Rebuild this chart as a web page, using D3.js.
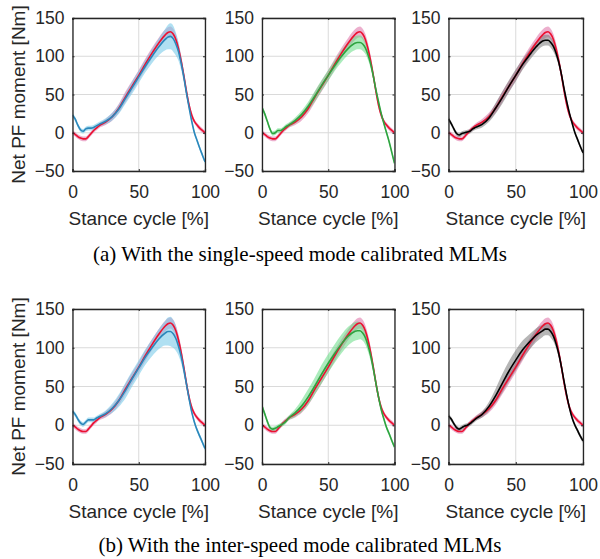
<!DOCTYPE html>
<html><head><meta charset="utf-8">
<script src="https://cdn.jsdelivr.net/npm/d3@7"></script>
<style>body{margin:0;background:#fff}svg{display:block}</style>
</head><body>
<svg id="c" width="600" height="559"></svg>
<script>
// ---- data ----
const stance = [0,2,4,6,8,10,12,14,16,18,20,25,30,35,40,45,50,55,60,65,70,72,74,76,78,80,82,84,86,88,90,92,94,96,98,100];
const xTicks = [0,50,100];
const yTicks = [-50,0,50,100,150];
const captions = ["(a) With the single-speed mode calibrated MLMs","(b) With the inter-speed mode calibrated MLMs"];

const measured   = [0,-2,-5,-7,-8,-8,-5,-1,3,6,9,14,21,32,47,61,75,90,104,117,128,131,132,129,122,110,94,75,54,36,23,15,10,6,3,0];
const measuredSD = [3,3,3,3,3,3,3,3,3,3,3,4,5,6,7,7,7,7,7,7,7,7,7,7,7,7,7,6,6,5,4,3,3,3,3,3];

const singleBlue   = [23,18,10,4,2,5,6,6,7,9,11,15,21,31,45,59,73,87,100,112,122,125,126,123,116,106,91,73,52,33,15,0,-10,-20,-29,-38];
const singleBlueSD = [3,3,3,3,3,3,3,3,3,3,3,4,5,6,7,8,8,8,9,11,14,16,17,17,15,12,9,7,5,4,3,3,3,3,3,3];
const singleGreen   = [33,25,15,5,-1,0,3,3,5,8,10,16,24,35,48,62,75,88,100,110,117,118,118,116,111,102,90,74,56,40,25,12,0,-12,-26,-40];
const singleGreenSD = [3,3,3,3,3,3,3,3,3,3,3,4,5,6,7,7,7,7,8,8,9,9,9,9,8,7,6,5,4,4,3,3,3,3,3,3];
const singleBlack   = [18,12,5,-1,-3,-1,0,1,2,5,7,11,19,32,46,61,75,89,101,112,120,121,121,118,113,104,92,76,57,40,25,12,0,-9,-18,-26];
const singleBlackSD = [3,3,3,3,3,3,3,3,3,3,3,4,5,7,8,8,8,7,7,7,7,7,7,7,7,6,5,5,4,4,3,3,3,3,3,3];

const interBlue   = [18,14,8,3,1,4,7,7,7,9,11,15,22,32,45,60,74,88,100,111,119,121,121,118,112,102,89,72,53,34,17,4,-6,-14,-22,-30];
const interBlueSD = [3,3,3,3,3,3,3,3,3,3,3,4,6,8,10,10,10,10,11,13,16,18,19,18,16,12,9,7,5,4,3,3,3,3,3,3];
const interGreen   = [25,15,5,-3,-5,-4,-2,0,2,5,9,16,25,37,51,66,80,93,105,115,121,122,122,119,113,103,90,73,54,36,20,8,-3,-11,-20,-28];
const interGreenSD = [3,3,3,3,3,3,3,3,3,3,3,5,8,10,11,12,12,12,12,12,12,12,11,10,9,8,7,6,5,4,3,3,3,3,3,3];
const interBlack   = [12,8,2,-3,-5,-3,-1,0,2,5,8,14,24,38,54,70,84,97,107,116,122,124,124,121,115,105,92,75,56,38,22,9,0,-7,-14,-20];
const interBlackSD = [3,3,3,3,3,3,3,3,3,3,3,4,6,9,12,13,13,12,10,9,8,8,8,8,7,6,5,5,4,4,3,3,3,3,3,3];

const styles = {
  blue:  {line:"#2b87bb", band:"#7ccbea", op:0.6},
  green: {line:"#2ea33f", band:"#66dd85", op:0.55},
  black: {line:"#000000", band:"#7a7a7a", op:0.55},
  red:   {line:"#ec1030", band:"#e07aab", op:0.6}
};

const panels = [
  {row:0,col:0,mean:singleBlue,sd:singleBlueSD,st:"blue"},
  {row:0,col:1,mean:singleGreen,sd:singleGreenSD,st:"green"},
  {row:0,col:2,mean:singleBlack,sd:singleBlackSD,st:"black"},
  {row:1,col:0,mean:interBlue,sd:interBlueSD,st:"blue"},
  {row:1,col:1,mean:interGreen,sd:interGreenSD,st:"green"},
  {row:1,col:2,mean:interBlack,sd:interBlackSD,st:"black"}
];

// ---- layout ----
const colX = [[72.5,205],[262,394.5],[448.5,583]];
const rowY = [[18,171],[309,464]];
const svg = d3.select("#c");
const frame = "#262626";

panels.forEach(p => {
  const [x0,x1] = colX[p.col], [y0,y1] = rowY[p.row];
  const x = d3.scaleLinear().domain([0,100]).range([x0,x1]);
  const y = d3.scaleLinear().domain([-50,150]).range([y1,y0]);
  const g = svg.append("g");
  const clipId = "clip"+p.row+p.col;
  g.append("clipPath").attr("id",clipId).append("rect")
    .attr("x",x0).attr("y",y0).attr("width",x1-x0).attr("height",y1-y0);

  // grid
  g.selectAll(".gx").data(xTicks).join("line")
    .attr("x1",d=>x(d)).attr("x2",d=>x(d)).attr("y1",y0).attr("y2",y1)
    .attr("stroke","#dadada").attr("stroke-width",1);
  g.selectAll(".gy").data(yTicks).join("line")
    .attr("y1",d=>y(d)).attr("y2",d=>y(d)).attr("x1",x0).attr("x2",x1)
    .attr("stroke","#dadada").attr("stroke-width",1);

  const area = (m,s) => d3.area().curve(d3.curveMonotoneX)
      .x((d,i)=>x(stance[i])).y0((d,i)=>y(m[i]-s[i])).y1((d,i)=>y(m[i]+s[i]))(stance);
  const line = m => d3.line().curve(d3.curveMonotoneX)
      .x((d,i)=>x(stance[i])).y((d,i)=>y(m[i]))(stance);

  const pg = g.append("g").attr("clip-path",`url(#${clipId})`);
  const cs = styles[p.st], rs = styles.red;
  pg.append("path").attr("d",area(measured,measuredSD)).attr("fill",rs.band).attr("opacity",rs.op);
  pg.append("path").attr("d",area(p.mean,p.sd)).attr("fill",cs.band).attr("opacity",cs.op);
  pg.append("path").attr("d",line(measured)).attr("fill","none").attr("stroke",rs.line).attr("stroke-width",1.6);
  pg.append("path").attr("d",line(p.mean)).attr("fill","none").attr("stroke",cs.line).attr("stroke-width",1.6);

  // axes (inward ticks, box)
  const fs = "17.5px";
  const ax = g.append("g").attr("transform",`translate(0,${y1})`)
    .call(d3.axisBottom(x).tickValues(xTicks).tickSize(-2).tickPadding(15));
  const ay = g.append("g").attr("transform",`translate(${x0},0)`)
    .call(d3.axisLeft(y).tickValues(yTicks).tickSize(-2).tickPadding(8));
  g.append("g").attr("transform",`translate(0,${y0})`)
    .call(d3.axisTop(x).tickValues(xTicks).tickSize(-2).tickFormat(""));
  g.append("g").attr("transform",`translate(${x1},0)`)
    .call(d3.axisRight(y).tickValues(yTicks).tickSize(-2).tickFormat(""));
  g.selectAll(".domain").attr("stroke",frame).attr("stroke-width",1.3);
  g.selectAll(".tick line").attr("stroke",frame);
  g.selectAll(".tick text").attr("fill","#262626").attr("font-family","Liberation Sans, Arial, sans-serif").attr("font-size",fs);
  ax.selectAll(".tick text").attr("dy","0.71em");

  g.append("text").attr("x",(x0+x1)/2).attr("y",y1+54)
    .attr("text-anchor","middle").attr("font-family","Liberation Sans, Arial, sans-serif")
    .attr("font-size","19px").attr("fill","#262626").text("Stance cycle [%]");
  if (p.col===0) {
    g.append("text").attr("transform",`translate(25,${(y0+y1)/2}) rotate(-90)`)
      .attr("text-anchor","middle").attr("font-family","Liberation Sans, Arial, sans-serif")
      .attr("font-size","19px").attr("fill","#262626").text("Net PF moment [Nm]");
  }
});

svg.selectAll(".cap").data(captions).join("text")
  .attr("x",300).attr("y",(d,i)=>[261,552][i])
  .attr("text-anchor","middle").attr("font-family","Liberation Serif, Times New Roman, serif")
  .attr("font-size","21px").attr("fill","#000").text(d=>d);
</script>
</body></html>
